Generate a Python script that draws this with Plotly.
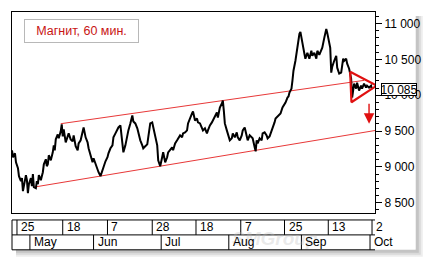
import plotly.graph_objects as go

# ---------------- data (trading-day index, price) ----------------
days = [-1.57, -1.25, -0.63, -0.31, 0.31, 0.63, 1.25, 1.57, 1.88, 2.20,
        2.82, 3.14, 3.45, 3.76, 4.39, 4.71, 5.02, 5.33, 5.96, 6.27,
        6.59, 6.90, 7.53, 7.84, 8.16, 8.47, 9.10, 9.41, 9.73, 10.04,
        10.67, 11.29, 11.61, 11.92, 12.24, 12.86, 13.18, 13.80, 14.12, 14.43,
        14.75, 15.37, 15.69, 16.31, 16.94,
        17.57, 17.88, 18.51, 19.14, 19.45, 20.08, 20.71, 21.02, 21.65, 22.27,
        22.59, 23.22, 23.84, 24.16, 24.78, 25.41, 25.73, 26.35, 26.98, 27.29,
        27.92, 28.55, 28.86, 29.49, 30.12, 30.43, 31.06, 31.69, 32.00, 32.63,
        33.25, 33.57, 34.20, 34.82, 35.14, 35.76, 36.39, 36.71, 37.33, 37.96,
        38.27, 38.90,
        39.53, 39.84, 40.47, 41.10, 41.41, 42.04, 42.67, 42.98, 43.61, 44.24,
        44.55, 45.18, 45.80, 46.12, 46.75, 47.37, 47.69, 48.31, 48.94, 49.25,
        49.88, 50.51, 50.82, 51.45, 52.08, 52.39, 53.02, 53.65, 53.96, 54.59,
        55.22, 55.53, 56.16, 56.78, 57.10, 57.73,
        58.35, 58.67, 59.29, 59.92, 60.24, 60.86, 61.49, 61.80, 62.43, 63.06,
        63.37, 64.00, 64.63, 64.94, 65.25, 65.57, 66.20, 66.51, 67.14, 67.76,
        68.08, 68.71, 69.33, 69.65, 70.27, 70.90, 71.22, 71.84, 72.47, 72.78,
        73.41, 74.04, 74.35, 74.98, 75.29, 75.61, 75.92, 76.55, 77.18, 77.49,
        78.12, 78.75, 79.06, 79.69,
        80.31, 80.63, 81.25, 81.57, 82.20, 83.14, 83.76, 84.39, 84.71, 85.33,
        85.65, 85.96, 86.59, 86.90, 87.22, 87.84, 88.16, 88.47, 88.78, 89.10,
        89.41, 89.73, 90.04, 90.67, 90.98, 91.29, 91.61, 92.24, 92.86, 93.18,
        93.80, 94.43, 94.75, 95.37, 96.00, 96.31, 96.94, 97.57, 97.88, 98.20,
        98.51, 98.82, 99.14, 99.45, 100.08,
        100.71, 101.02, 101.65, 102.27, 102.59, 102.90, 103.22, 103.84, 104.16, 104.78,
        105.41, 105.73, 106.35, 106.98, 107.29, 107.92, 108.55, 108.86, 109.49, 110.12,
        110.43, 111.06, 111.69, 112.00]

close = [9232, 9135, 9190, 9065, 8982, 8871, 8801, 8843, 8662, 8760,
         8885, 8815, 8635, 8760, 8843, 8732, 8899, 8718, 8704, 8801,
         8760, 8885, 8815, 8871, 8926, 9037, 9107, 9010, 9037, 9163,
         9093, 9204, 9301, 9232, 9385, 9454, 9399, 9496, 9593, 9426,
         9524, 9343, 9399, 9468, 9385,
         9357, 9440, 9288, 9232, 9329, 9371, 9510, 9551, 9413, 9343,
         9260, 9163, 9065, 9121, 9037, 8982, 8926, 8871, 8940, 8996,
         9079, 9135, 9190, 9260, 9301, 9413, 9468, 9538, 9551, 9579,
         9371, 9204, 9301, 9468, 9510, 9607, 9718, 9635, 9607, 9538,
         9482, 9371,
         9301, 9260, 9288, 9315, 9413, 9607, 9621, 9551, 9440, 9301,
         9093, 9010, 9135, 9204, 9065, 9135, 9204, 9232, 9274, 9232,
         9329, 9371, 9399, 9440, 9413, 9468, 9482, 9510, 9607, 9690,
         9746, 9774, 9649, 9676, 9621, 9607,
         9551, 9510, 9538, 9468, 9510, 9579, 9621, 9649, 9690, 9760,
         9690, 9829, 9885, 9926, 9787, 9607, 9510, 9468, 9371, 9399,
         9468, 9413, 9482, 9413, 9371, 9440, 9510, 9551, 9440, 9371,
         9440, 9413, 9399, 9274, 9218, 9371, 9329, 9399, 9371, 9468,
         9482, 9440, 9399, 9426,
         9496, 9551, 9621, 9676, 9704, 9746, 9829, 9871, 9899, 9968,
         9982, 10038, 10093, 10204, 10343, 10482, 10579, 10690, 10787, 10857,
         10885, 10829, 10732, 10579, 10510, 10551, 10593, 10510, 10621, 10551,
         10593, 10510, 10621, 10565, 10649, 10663, 10801, 10926, 10871, 10787,
         10732, 10663, 10315, 10399, 10482,
         10551, 10385, 10301, 10315, 10454, 10510, 10482, 10510, 10440, 10371,
         10232, 9968, 10162, 10093, 10176, 10065, 10135, 10093, 10162, 10107,
         10135, 10107, 10135, 10085]

day_ticks = [0, 14.43, 28.55, 42.67, 56.47, 70.59, 84.39, 98.20, 112.0]
day_labels = ["25", "18", "7", "28", "18", "7", "25", "13", "2"]
month_ticks = [4.08, 24.16, 45.49, 66.82, 89.73, 111.37]
month_labels = ["May", "Jun", "Jul", "Aug", "Sep", "Oct"]

y_ticks = [8500, 9000, 9500, 10000, 10500, 11000]
y_labels = ["8 500", "9 000", "9 500", "10 000", "10 500", "11 000"]

upper_x = [13.80, 109.49]
upper_y = [9603, 10208]
lower_x = [5.33, 112.94]
lower_y = [8718, 9508]
tri_x = [105.10, 105.51, 113.48, 105.10]
tri_y = [10329, 9903, 10135, 10329]
arrow_x = 111.06
arrow_from = 9903
arrow_to = 9603
last_price = 10085
title_text = "Магнит, 60 мин."

X_RANGE = [-1.57, 112.94]
Y_RANGE = [8357, 11162]

# ---------------- layout geometry (pixels) ----------------
W, H = 432, 264
ML, MR, MT, MB = 11, 56, 11, 51
PW, PH = W - ML - MR, H - MT - MB


def px(xp):
    return (xp - ML) / PW


def py(yp):
    return (H - MB - yp) / PH


FONT = "Liberation Sans, Arial, sans-serif"
RED = "#e01010"

fig = go.Figure()

fig.add_trace(go.Scatter(x=lower_x, y=lower_y, mode="lines",
                         line=dict(color="#e83838", width=1), hoverinfo="skip"))
fig.add_trace(go.Scatter(x=upper_x, y=upper_y, mode="lines",
                         line=dict(color="#e83838", width=1), hoverinfo="skip"))
fig.add_trace(go.Scatter(x=days, y=close, mode="lines",
                         line=dict(color="black", width=2), hoverinfo="skip"))
fig.add_trace(go.Scatter(x=tri_x, y=tri_y, mode="lines",
                         line=dict(color=RED, width=2.2), hoverinfo="skip"))

shapes = []
# shadow
for off, op in [(7, 0.10), (5, 0.12), (3, 0.16)]:
    shapes.append(dict(type="rect", xref="paper", yref="paper",
                       x0=px(417), x1=px(417 + off), y0=py(15), y1=py(250 + off),
                       line=dict(width=0), fillcolor="rgba(80,80,80,%.2f)" % op, layer="below"))
    shapes.append(dict(type="rect", xref="paper", yref="paper",
                       x0=px(15), x1=px(417), y0=py(250), y1=py(250 + off),
                       line=dict(width=0), fillcolor="rgba(80,80,80,%.2f)" % op, layer="below"))

# date panel
r_top, r_mid, r_bot = py(220), py(235), py(250)
for yy in (r_top, r_mid, r_bot):
    shapes.append(dict(type="line", xref="paper", yref="paper", x0=0, x1=1, y0=yy, y1=yy,
                       line=dict(color="black", width=1)))
shapes.append(dict(type="line", xref="paper", yref="paper", x0=0, x1=0, y0=r_top, y1=r_bot,
                   line=dict(color="black", width=1)))
for t in day_ticks:
    shapes.append(dict(type="line", xref="x", yref="paper", x0=t, x1=t, y0=r_top, y1=r_mid,
                       line=dict(color="black", width=1)))
for t in month_ticks:
    shapes.append(dict(type="line", xref="x", yref="paper", x0=t, x1=t, y0=r_mid, y1=r_bot,
                       line=dict(color="black", width=1)))

annotations = []
# watermark (faint, behind the labels)
annotations.append(dict(x=px(320), y=py(250), xref="paper", yref="paper", text="<i><b>SMGroup</b></i>",
                        showarrow=False, borderpad=0,
                        font=dict(family=FONT, size=19, color="rgba(190,190,190,0.32)")))

for t, lab in zip(day_ticks, day_labels):
    annotations.append(dict(x=t, xref="x", y=(r_top + r_mid) / 2, yref="paper", text=lab,
                            showarrow=False, xanchor="left", yanchor="middle", xshift=2,
                            font=dict(family=FONT, size=12, color="black")))
for t, lab in zip(month_ticks, month_labels):
    annotations.append(dict(x=t, xref="x", y=(r_mid + r_bot) / 2, yref="paper", text=lab,
                            showarrow=False, xanchor="left", yanchor="middle", xshift=2,
                            font=dict(family=FONT, size=12, color="black")))

# title box
annotations.append(dict(x=px(23), y=py(18), xref="paper", yref="paper", xanchor="left", yanchor="top",
                        text=title_text, showarrow=False, width=113, height=22, borderpad=0,
                        bordercolor="#b8b8b8", borderwidth=1, bgcolor="white",
                        font=dict(family=FONT, size=12.5, color="#c81414")))

# last price box
annotations.append(dict(x=1, xref="paper", y=last_price, yref="y", xanchor="left", yanchor="middle",
                        xshift=6, text="10 085", showarrow=False, borderpad=0, width=34, height=11,
                        bordercolor="black", borderwidth=1, bgcolor="white",
                        font=dict(family=FONT, size=12, color="black")))

# arrow
annotations.append(dict(x=arrow_x, y=arrow_to, ax=arrow_x, ay=arrow_from, xref="x", yref="y",
                        axref="x", ayref="y", showarrow=True, arrowhead=2, arrowsize=1.5,
                        arrowwidth=1.4, arrowcolor=RED, text=""))

fig.update_layout(
    width=W, height=H, margin=dict(l=ML, r=MR, t=MT, b=MB),
    paper_bgcolor="white", plot_bgcolor="white", showlegend=False,
    shapes=shapes, annotations=annotations,
    xaxis=dict(range=X_RANGE, showgrid=False, zeroline=False, showticklabels=False, ticks="",
               showline=True, linecolor="black", linewidth=1, mirror=True, fixedrange=True),
    yaxis=dict(range=Y_RANGE, side="right", showgrid=False, zeroline=False,
               tickvals=y_ticks, ticktext=y_labels, ticks="outside", ticklen=6, tickwidth=1,
               tickcolor="black", showline=True, linecolor="black", linewidth=1, mirror=True,
               tickfont=dict(family=FONT, size=12, color="black"),
               minor=dict(dtick=100, ticks="outside", ticklen=3, tickcolor="black", tickwidth=1),
               fixedrange=True),
)

fig.write_html("out.html")
